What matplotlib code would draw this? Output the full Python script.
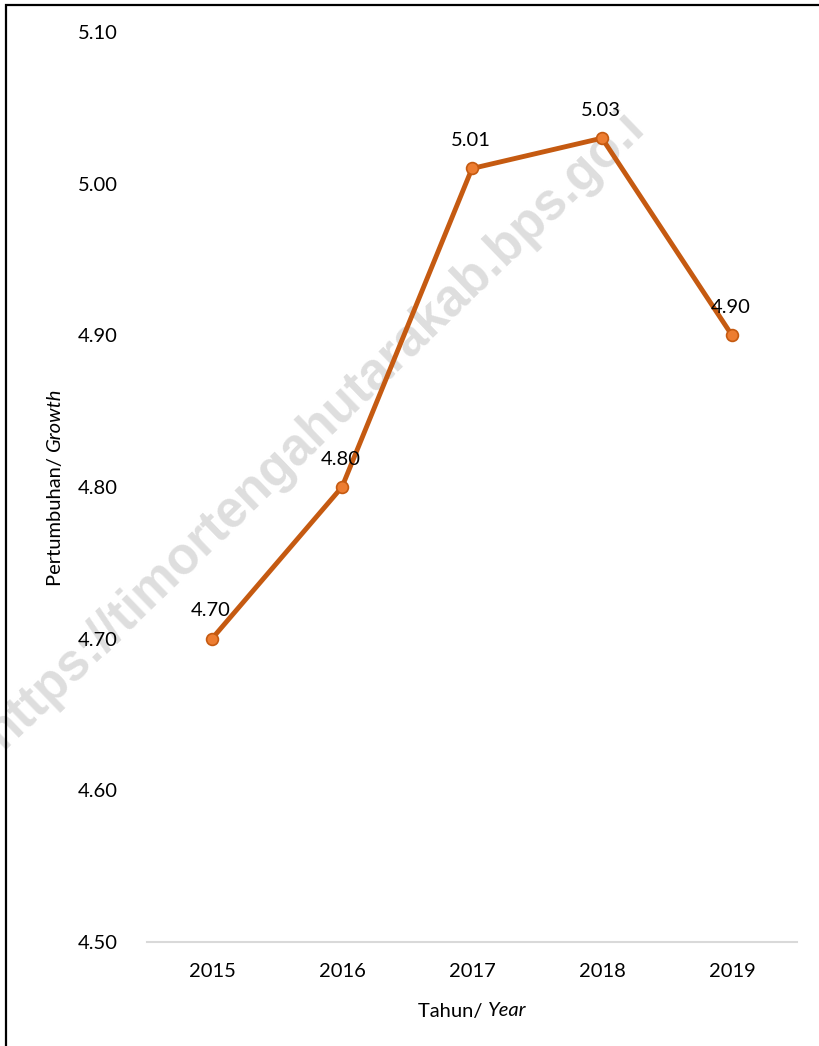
import matplotlib
matplotlib.use("Agg")
import matplotlib.pyplot as plt
from matplotlib.patches import Rectangle

# data
years = ["2015", "2016", "2017", "2018", "2019"]
growth = [4.70, 4.80, 5.01, 5.03, 4.90]
y_ticks = [4.50, 4.60, 4.70, 4.80, 4.90, 5.00, 5.10]

plt.rcParams["font.family"] = ["Lato", "DejaVu Sans"]
FS = 14.5
W, H = 819, 1046

fig = plt.figure(figsize=(8.19, 10.46), dpi=100)
ax = fig.add_axes([147 / W, 1 - 942 / H, 650 / W, 910 / H])

# watermark behind everything (below the axes)
fig.text(0.385, 0.589, "https://timortengahutarakab.bps.go.i",
         fontsize=37, fontweight="bold", color="#dedede",
         family="Liberation Sans", rotation=44, rotation_mode="anchor",
         ha="center", va="center", zorder=-1)

x = list(range(len(years)))
ax.plot(x, growth, color="#C55A11", lw=3.5, marker="o", markersize=8.5,
        markerfacecolor="#ED7D31", markeredgecolor="#C55A11",
        markeredgewidth=1.2, zorder=3)

for xi, v in zip(x, growth):
    ax.annotate(f"{v:.2f}", (xi, v), xytext=(-1, 14), textcoords="offset points",
                ha="center", va="bottom", fontsize=FS, color="#000000")

ax.set_xlim(-0.5, 4.5)
ax.set_ylim(4.50, 5.10)
ax.set_xticks(x)
ax.set_xticklabels(years, fontsize=FS)
ax.set_yticks(y_ticks)
ax.set_yticklabels([f"{t:.2f}" for t in y_ticks], fontsize=FS)
ax.tick_params(length=0)
ax.tick_params(axis="x", pad=15)
ax.tick_params(axis="y", pad=21)

for s in ["top", "right", "left"]:
    ax.spines[s].set_visible(False)
ax.spines["bottom"].set_color("#d9d9d9")
ax.spines["bottom"].set_linewidth(1.5)
ax.patch.set_alpha(0)

# axis titles with italic english part, placed by measured widths
r = fig.canvas.get_renderer()
t1 = fig.text(0, 0, "Tahun/ ", fontsize=FS)
t2 = fig.text(0, 0, "Year", fontsize=FS, style="italic")
w1 = t1.get_window_extent(r).width
w2 = t2.get_window_extent(r).width
x0 = 472 - (w1 + w2) / 2
t1.set_position((x0 / W, 1 - 1011 / H)); t1.set_va("center")
t2.set_position(((x0 + w1) / W, 1 - 1011 / H)); t2.set_va("center")

t3 = fig.text(0, 0, "Pertumbuhan/ ", fontsize=FS, rotation=90)
t4 = fig.text(0, 0, "Growth", fontsize=FS, rotation=90, style="italic")
h3 = t3.get_window_extent(r).height
h4 = t4.get_window_extent(r).height
y0 = 487 + (h3 + h4) / 2  # pixel from top, bottom of label
t3.set_position((55 / W, 1 - y0 / H)); t3.set_ha("center"); t3.set_va("bottom")
t4.set_position((55 / W, 1 - (y0 - h3) / H)); t4.set_ha("center"); t4.set_va("bottom")

# outer frame
fig.patches.append(Rectangle((6 / W, -0.05), 1.2, 1 - 5 / H + 0.05,
                             transform=fig.transFigure, fill=False,
                             edgecolor="#000000", lw=1.6, zorder=5))

fig.savefig("out.png", dpi=100)
